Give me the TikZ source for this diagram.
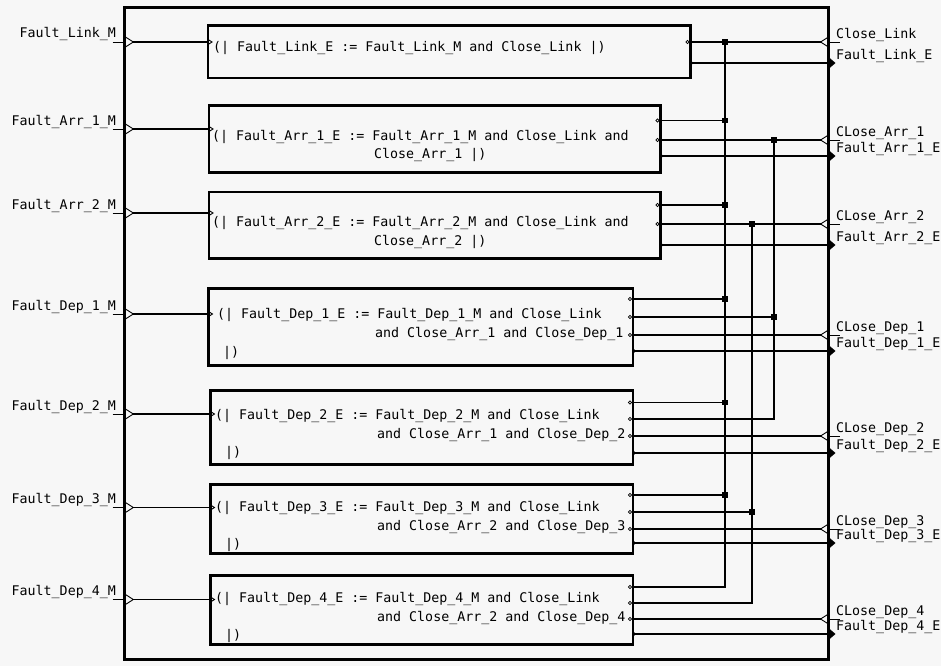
\documentclass[tikz,border=0pt]{standalone}
\usepackage{fontspec}
\newfontfamily\lbl{DejaVu Sans Mono}
\definecolor{bgc}{RGB}{247,247,247}
\begin{document}
\begin{tikzpicture}[x=1pt,y=-1pt,
  txt/.style={font=\lbl\fontsize{13.3}{15}\selectfont, inner sep=0pt, text height=10pt, text depth=0pt, anchor=west},
  rtxt/.style={txt, anchor=east},
  blk/.style={draw, line width=2.8pt, inner sep=0pt, outer sep=0pt, anchor=north west},
  wire/.style={line width=1.1pt},
  pm/.style={line width=0.9pt},
  jdot/.style={fill, minimum size=5.5pt, inner sep=0pt, outer sep=0pt, draw=none},
  lport/.pic={\draw[pm] (-12,0) -- (0,0); \draw[pm] (0,-5.5) -- (8.6,0) -- (0,5.5);},
  rinport/.pic={\draw[pm] (0,0) -- (11,0); \draw[pm] (0,-5) -- (-8,0) -- (0,5);},
  routport/.pic={\fill (0,-6) -- (7,0) -- (0,6) -- cycle;},
  bin/.pic={\draw[pm] (0,-2.5) -- (4,0) -- (0,2.5);},
  rin/.pic={\draw[line width=0.8pt] (-3,0) circle (1.6);},
  rout/.pic={\fill (1,0) circle (1.8);}
]
\fill[bgc] (0,0) rectangle (941,666);
\useasboundingbox (0,0) rectangle (941,666);

% system box
\node[blk, minimum width=703.8pt, minimum height=652.2pt] (sys) at (124.7,7.3) {};

% inner boxes
\node[blk, minimum width=482.5pt, minimum height=52.5pt] (b1) at (208,25.5) {};
\node[blk, minimum width=451.5pt, minimum height=67pt] (b2) at (209,105.5) {};
\node[blk, minimum width=451.5pt, minimum height=66.5pt] (b3) at (209,192) {};
\node[blk, minimum width=424.5pt, minimum height=77pt] (b4) at (208.5,288.5) {};
\node[blk, minimum width=422.5pt, minimum height=74.2pt] (b5) at (210.5,390.3) {};
\node[blk, minimum width=422.5pt, minimum height=68.8pt] (b6) at (210.5,484.7) {};
\node[blk, minimum width=422.5pt, minimum height=69pt] (b7) at (210.5,575.7) {};

% box texts
\node[txt] (t1) at (213,47) {(| Fault\_Link\_E := Fault\_Link\_M and Close\_Link |)};
\node[txt] (t2a) at (212,135) {(| Fault\_Arr\_1\_E := Fault\_Arr\_1\_M and Close\_Link and};
\node[txt] (t2b) at (374,153) {Close\_Arr\_1 |)};
\node[txt] (t3a) at (212,221) {(| Fault\_Arr\_2\_E := Fault\_Arr\_2\_M and Close\_Link and};
\node[txt] (t3b) at (374,240) {Close\_Arr\_2 |)};
\node[txt] (t4a) at (217,313.5) {(| Fault\_Dep\_1\_E := Fault\_Dep\_1\_M and Close\_Link};
\node[txt] (t4b) at (375,332.5) {and Close\_Arr\_1 and Close\_Dep\_1};
\node[txt] (t4c) at (223,351) {|)};
\node[txt] (t5a) at (215,414.5) {(| Fault\_Dep\_2\_E := Fault\_Dep\_2\_M and Close\_Link};
\node[txt] (t5b) at (377,433.5) {and Close\_Arr\_1 and Close\_Dep\_2};
\node[txt] (t5c) at (225,451) {|)};
\node[txt] (t6a) at (215,506) {(| Fault\_Dep\_3\_E := Fault\_Dep\_3\_M and Close\_Link};
\node[txt] (t6b) at (377,525) {and Close\_Arr\_2 and Close\_Dep\_3};
\node[txt] (t6c) at (225,543.5) {|)};
\node[txt] (t7a) at (215,597.5) {(| Fault\_Dep\_4\_E := Fault\_Dep\_4\_M and Close\_Link};
\node[txt] (t7b) at (377,616) {and Close\_Arr\_2 and Close\_Dep\_4};
\node[txt] (t7c) at (225,634.5) {|)};

% left inputs
\coordinate (i1) at (133.3,42);
\coordinate (i2) at (133.3,129);
\coordinate (i3) at (133.3,213);
\coordinate (i4) at (133.3,314);
\coordinate (i5) at (133.3,414);
\coordinate (i6) at (133.3,507.5);
\coordinate (i7) at (133.3,599.5);
\foreach \yy in {42,129,213,314,414,507.5,599.5} { \pic at (124.7,\yy) {lport}; }
\draw[wire] (i1) -- (b1.west |- i1);
\draw[wire] (i2) -- (b2.west |- i2);
\draw[wire] (i3) -- (b3.west |- i3);
\draw[wire] (i4) -- (b4.west |- i4);
\draw[wire] (i5) -- (b5.west |- i5);
\draw[wire] (i6) -- (b6.west |- i6);
\draw[wire] (i7) -- (b7.west |- i7);
\pic at (b1.west |- i1) {bin};
\pic at (b2.west |- i2) {bin};
\pic at (b3.west |- i3) {bin};
\pic at (b4.west |- i4) {bin};
\pic at (b5.west |- i5) {bin};
\pic at (b6.west |- i6) {bin};
\pic at (b7.west |- i7) {bin};

\node[rtxt] (lL) at (116,33) {Fault\_Link\_M};
\node[rtxt] (lA1) at (116,120) {Fault\_Arr\_1\_M};
\node[rtxt] (lA2) at (116,204) {Fault\_Arr\_2\_M};
\node[rtxt] (lD1) at (116,305) {Fault\_Dep\_1\_M};
\node[rtxt] (lD2) at (116,405) {Fault\_Dep\_2\_M};
\node[rtxt] (lD3) at (116,498.5) {Fault\_Dep\_3\_M};
\node[rtxt] (lD4) at (116,590.5) {Fault\_Dep\_4\_M};

% box right ports
\coordinate (b1i1) at (690.5,42);   \coordinate (b1o) at (690.5,63);
\coordinate (b2i1) at (660.5,120.5); \coordinate (b2i2) at (660.5,140); \coordinate (b2o) at (660.5,156);
\coordinate (b3i1) at (660.5,205);  \coordinate (b3i2) at (660.5,224); \coordinate (b3o) at (660.5,245);
\coordinate (b4i1) at (633,299); \coordinate (b4i2) at (633,317); \coordinate (b4i3) at (633,335); \coordinate (b4o) at (633,351);
\coordinate (b5i1) at (633,402.5); \coordinate (b5i2) at (633,419); \coordinate (b5i3) at (633,436); \coordinate (b5o) at (633,453);
\coordinate (b6i1) at (633,495); \coordinate (b6i2) at (633,512); \coordinate (b6i3) at (633,529); \coordinate (b6o) at (633,543);
\coordinate (b7i1) at (633,587); \coordinate (b7i2) at (633,603); \coordinate (b7i3) at (633,619); \coordinate (b7o) at (633,634);

\foreach \p in {b1i1,b2i1,b2i2,b3i1,b3i2,b4i1,b4i2,b4i3,b5i1,b5i2,b5i3,b6i1,b6i2,b6i3,b7i1,b7i2,b7i3} { \pic at (\p) {rin}; }
\foreach \p in {b1o,b2o,b3o,b4o,b5o,b6o,b7o} { \pic at (\p) {rout}; }

% system right ports
\coordinate (aCL) at (820.5,42);   \coordinate (rFL) at (828.5,63);
\coordinate (aCA1) at (820.5,140); \coordinate (rFA1) at (828.5,156);
\coordinate (aCA2) at (820.5,224); \coordinate (rFA2) at (828.5,245);
\coordinate (aCD1) at (820.5,335); \coordinate (rFD1) at (828.5,351);
\coordinate (aCD2) at (820.5,436); \coordinate (rFD2) at (828.5,453);
\coordinate (aCD3) at (820.5,529); \coordinate (rFD3) at (828.5,543);
\coordinate (aCD4) at (820.5,619); \coordinate (rFD4) at (828.5,634);
\foreach \yy in {42,140,224,335,436,529,619} { \pic at (828.5,\yy) {rinport}; }
\foreach \p in {rFL,rFA1,rFA2,rFD1,rFD2,rFD3,rFD4} { \pic at (\p) {routport}; }

% junction dots
\node[jdot] (j1) at (725,42) {};
\node[jdot] (j2) at (725,120.5) {};
\node[jdot] (j3) at (774,140) {};
\node[jdot] (j4) at (725,205) {};
\node[jdot] (j5) at (752,224) {};
\node[jdot] (j6) at (725,299) {};
\node[jdot] (j7) at (774,317) {};
\node[jdot] (j8) at (725,402.5) {};
\node[jdot] (j9) at (725,495) {};
\node[jdot] (j10) at (752,512) {};

% wires to system ports
\draw[wire] (b1i1) -- (aCL);
\draw[wire] (b1o) -- (rFL);
\draw[wire] (b2i2) -- (aCA1);
\draw[wire] (b2o) -- (rFA1);
\draw[wire] (b3i2) -- (aCA2);
\draw[wire] (b3o) -- (rFA2);
\draw[wire] (b4i3) -- (aCD1);
\draw[wire] (b4o) -- (rFD1);
\draw[wire] (b5i3) -- (aCD2);
\draw[wire] (b5o) -- (rFD2);
\draw[wire] (b6i3) -- (aCD3);
\draw[wire] (b6o) -- (rFD3);
\draw[wire] (b7i3) -- (aCD4);
\draw[wire] (b7o) -- (rFD4);

% bus wires
\draw[wire] (b7i1) -| (j1.center);
\draw[wire] (b5i2) -| (j3.center);
\draw[wire] (b7i2) -| (j5.center);
\draw[wire] (b2i1) -- (j2.center);
\draw[wire] (b3i1) -- (j4.center);
\draw[wire] (b4i1) -- (j6.center);
\draw[wire] (b4i2) -- (j7.center);
\draw[wire] (b5i1) -- (j8.center);
\draw[wire] (b6i1) -- (j9.center);
\draw[wire] (b6i2) -- (j10.center);

% right labels
\node[txt] (rl1) at (836,33.5) {Close\_Link};
\node[txt] (rl2) at (836,54.5) {Fault\_Link\_E};
\node[txt] (rl3) at (836,131.5) {CLose\_Arr\_1};
\node[txt] (rl4) at (836,147.5) {Fault\_Arr\_1\_E};
\node[txt] (rl5) at (836,215.5) {CLose\_Arr\_2};
\node[txt] (rl6) at (836,236.5) {Fault\_Arr\_2\_E};
\node[txt] (rl7) at (836,326.5) {CLose\_Dep\_1};
\node[txt] (rl8) at (836,342.5) {Fault\_Dep\_1\_E};
\node[txt] (rl9) at (836,427.5) {CLose\_Dep\_2};
\node[txt] (rl10) at (836,444.5) {Fault\_Dep\_2\_E};
\node[txt] (rl11) at (836,520.5) {CLose\_Dep\_3};
\node[txt] (rl12) at (836,534.5) {Fault\_Dep\_3\_E};
\node[txt] (rl13) at (836,610.5) {CLose\_Dep\_4};
\node[txt] (rl14) at (836,625.5) {Fault\_Dep\_4\_E};
\end{tikzpicture}
\end{document}
